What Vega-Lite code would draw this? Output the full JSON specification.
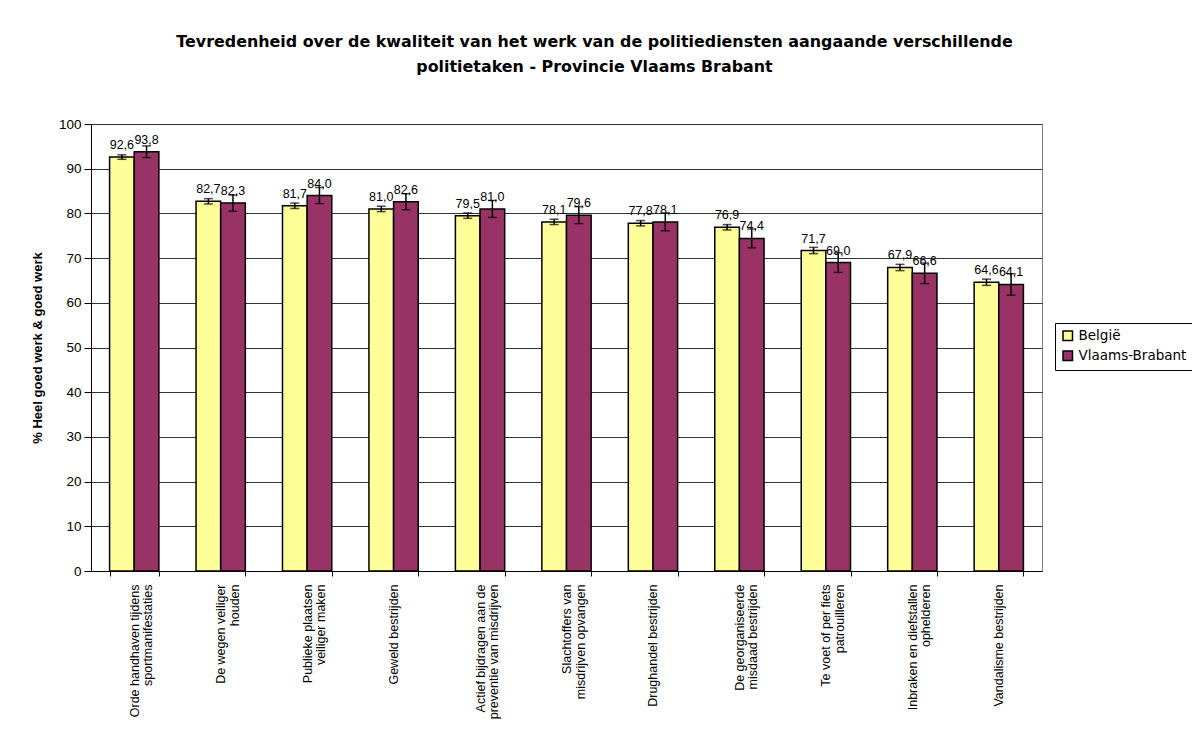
{
  "$schema": "https://vega.github.io/schema/vega-lite/v6.json",
  "autosize": {"type": "none"},
  "padding": {"left": 91, "top": 124, "right": 150, "bottom": 160},
  "width": 951,
  "height": 447,
  "background": "white",
  "config": {
    "font": "Liberation Sans",
    "locale": {"number": {"decimal": ",", "thousands": ".", "grouping": [3], "currency": ["€", ""]}},
    "view": {"stroke": "#808080", "strokeWidth": 1}
  },
  "title": {
    "text": ["Tevredenheid over de kwaliteit van het werk van de politiediensten aangaande verschillende", "politietaken - Provincie Vlaams Brabant"],
    "font": "DejaVu Sans",
    "fontSize": 15.9,
    "fontWeight": "bold",
    "color": "black",
    "lineHeight": 25,
    "anchor": "middle",
    "frame": "group",
    "dx": 28,
    "offset": 42
  },
  "data": {
    "values": [
      {"taak": "Orde handhaven tijdens\nsportmanifestaties", "reeks": "België", "v": 92.6, "lo": 92.1, "hi": 93.1},
      {"taak": "Orde handhaven tijdens\nsportmanifestaties", "reeks": "Vlaams-Brabant", "v": 93.8, "lo": 92.5, "hi": 95.1},
      {"taak": "De wegen veiliger\nhouden", "reeks": "België", "v": 82.7, "lo": 82.1, "hi": 83.3},
      {"taak": "De wegen veiliger\nhouden", "reeks": "Vlaams-Brabant", "v": 82.3, "lo": 80.5, "hi": 84.1},
      {"taak": "Publieke plaatsen\nveiliger maken", "reeks": "België", "v": 81.7, "lo": 81.1, "hi": 82.3},
      {"taak": "Publieke plaatsen\nveiliger maken", "reeks": "Vlaams-Brabant", "v": 84.0, "lo": 82.2, "hi": 85.8},
      {"taak": "Geweld bestrijden", "reeks": "België", "v": 81.0, "lo": 80.4, "hi": 81.6},
      {"taak": "Geweld bestrijden", "reeks": "Vlaams-Brabant", "v": 82.6, "lo": 80.8, "hi": 84.4},
      {"taak": "Actief bijdragen aan de\npreventie van misdrijven", "reeks": "België", "v": 79.5, "lo": 78.9, "hi": 80.1},
      {"taak": "Actief bijdragen aan de\npreventie van misdrijven", "reeks": "Vlaams-Brabant", "v": 81.0, "lo": 79.1, "hi": 82.9},
      {"taak": "Slachtoffers van\nmisdrijven opvangen", "reeks": "België", "v": 78.1, "lo": 77.5, "hi": 78.7},
      {"taak": "Slachtoffers van\nmisdrijven opvangen", "reeks": "Vlaams-Brabant", "v": 79.6, "lo": 77.7, "hi": 81.5},
      {"taak": "Drughandel bestrijden", "reeks": "België", "v": 77.8, "lo": 77.2, "hi": 78.4},
      {"taak": "Drughandel bestrijden", "reeks": "Vlaams-Brabant", "v": 78.1, "lo": 76.1, "hi": 80.1},
      {"taak": "De georganiseerde\nmisdaad bestrijden", "reeks": "België", "v": 76.9, "lo": 76.3, "hi": 77.5},
      {"taak": "De georganiseerde\nmisdaad bestrijden", "reeks": "Vlaams-Brabant", "v": 74.4, "lo": 72.3, "hi": 76.5},
      {"taak": "Te voet of per fiets\npatrouilleren", "reeks": "België", "v": 71.7, "lo": 71.0, "hi": 72.4},
      {"taak": "Te voet of per fiets\npatrouilleren", "reeks": "Vlaams-Brabant", "v": 69.0, "lo": 66.8, "hi": 71.2},
      {"taak": "Inbraken en diefstallen\nophelderen", "reeks": "België", "v": 67.9, "lo": 67.2, "hi": 68.6},
      {"taak": "Inbraken en diefstallen\nophelderen", "reeks": "Vlaams-Brabant", "v": 66.6, "lo": 64.3, "hi": 68.9},
      {"taak": "Vandalisme bestrijden", "reeks": "België", "v": 64.6, "lo": 63.9, "hi": 65.3},
      {"taak": "Vandalisme bestrijden", "reeks": "Vlaams-Brabant", "v": 64.1, "lo": 61.7, "hi": 66.5}
    ]
  },
  "encoding": {
    "x": {
      "field": "taak",
      "type": "nominal",
      "sort": null,
      "scale": {"paddingInner": 0.43, "paddingOuter": 0.215},
      "axis": {
        "title": null,
        "labelAngle": 270,
        "labelAlign": "right",
        "labelBaseline": "middle",
        "labelExpr": "split(datum.label, '\\n')",
        "labelFont": "Liberation Sans",
        "labelFontSize": 12.5,
        "labelColor": "black",
        "labelLineHeight": 13.5,
        "labelPadding": 8,
        "labelLimit": 200,
        "domainColor": "black",
        "tickColor": "black",
        "tickSize": 5,
        "tickBand": "extent",
        "grid": false
      }
    },
    "xOffset": {"field": "reeks", "type": "nominal", "sort": ["België", "Vlaams-Brabant"], "scale": {"paddingInner": 0}}
  },
  "layer": [
    {
      "mark": {"type": "bar", "stroke": "black", "strokeWidth": 1.5, "cornerRadius": 0},
      "encoding": {
        "y": {
          "field": "v",
          "type": "quantitative",
          "scale": {"domain": [0, 100]},
          "axis": {
            "title": "% Heel goed werk & goed werk",
            "titleFont": "Liberation Sans",
            "titleFontSize": 13,
            "titleFontWeight": "bold",
            "titleColor": "black",
            "titlePadding": 14,
            "values": [0, 10, 20, 30, 40, 50, 60, 70, 80, 90, 100],
            "labelFont": "Liberation Sans",
            "labelFontSize": 13.5,
            "labelColor": "black",
            "labelPadding": 3,
            "tickSize": 7,
            "tickColor": "black",
            "domainColor": "black",
            "grid": true,
            "gridColor": "#333333",
            "gridWidth": 1
          }
        },
        "color": {
          "field": "reeks",
          "type": "nominal",
          "sort": ["België", "Vlaams-Brabant"],
          "scale": {"domain": ["België", "Vlaams-Brabant"], "range": ["#FFFF99", "#993366"]},
          "legend": {
            "title": null,
            "orient": "none",
            "legendX": 964,
            "legendY": 199,
            "symbolType": "square",
            "symbolSize": 90,
            "symbolStrokeColor": "black",
            "symbolStrokeWidth": 1.5,
            "labelFont": "DejaVu Sans",
            "labelFontSize": 13.5,
            "labelColor": "black",
            "labelLimit": 300,
            "rowPadding": 4,
            "padding": 6,
            "strokeColor": "black",
            "fillColor": "white"
          }
        }
      }
    },
    {
      "mark": {"type": "rule", "color": "black", "strokeWidth": 1.5},
      "encoding": {
        "y": {"field": "lo", "type": "quantitative"},
        "y2": {"field": "hi"}
      }
    },
    {
      "mark": {"type": "tick", "color": "black", "thickness": 1.5, "size": 9},
      "encoding": {"y": {"field": "lo", "type": "quantitative"}}
    },
    {
      "mark": {"type": "tick", "color": "black", "thickness": 1.5, "size": 9},
      "encoding": {"y": {"field": "hi", "type": "quantitative"}}
    },
    {
      "mark": {"type": "text", "baseline": "bottom", "dy": -5, "font": "Liberation Sans", "fontSize": 12.5, "color": "black"},
      "encoding": {
        "y": {"field": "v", "type": "quantitative"},
        "text": {"field": "v", "type": "quantitative", "format": ".1f"}
      }
    }
  ]
}
